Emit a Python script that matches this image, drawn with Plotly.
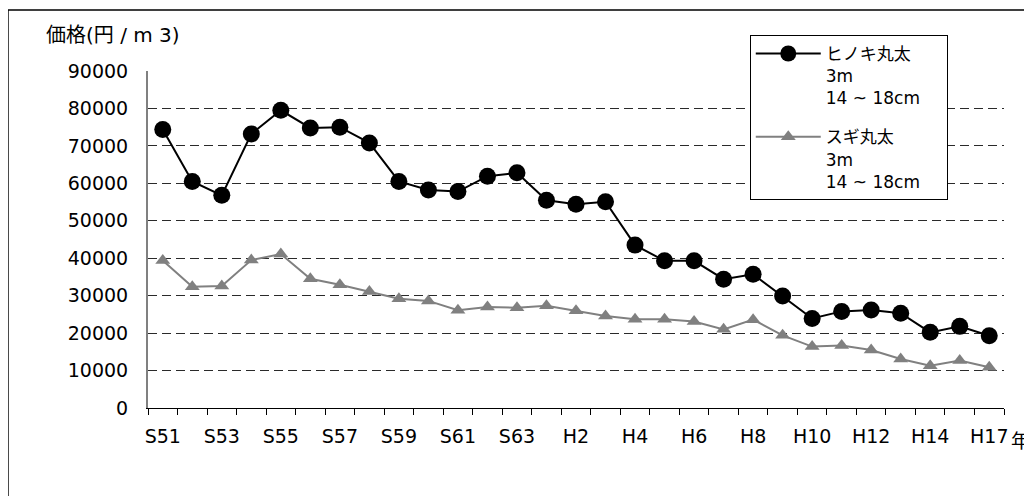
import plotly.graph_objects as go

categories = ["S51", "S52", "S53", "S54", "S55", "S56", "S57", "S58", "S59", "S60",
              "S61", "S62", "S63", "H1", "H2", "H3", "H4", "H5", "H6", "H7",
              "H8", "H9", "H10", "H11", "H12", "H13", "H14", "H15", "H17"]

hinoki = [74400, 60500, 56800, 73200, 79500, 74800, 75000, 70800, 60500, 58200,
          57800, 61900, 62800, 55500, 54400, 55100, 43500, 39300, 39300, 34400,
          35700, 29900, 23900, 25800, 26200, 25300, 20200, 21800, 19300]

sugi = [39400, 32400, 32600, 39500, 41100, 34500, 32900, 31100, 29200, 28600,
        26100, 27000, 26800, 27300, 26000, 24600, 23700, 23700, 23100, 21000,
        23600, 19400, 16400, 16700, 15500, 13100, 11300, 12700, 10900]

PAD = "\u00a0" * 4
name_hinoki = "ヒノキ丸太<br>3m<br>14 ~ 18cm" + PAD
name_sugi = "スギ丸太<br>3m<br>14 ~ 18cm" + PAD

y_title = "価格(円 / m 3)"
x_unit = "年"

FONT = "DejaVu Sans, Noto Sans CJK JP, sans-serif"

ticktext = [c if i % 2 == 0 else "" for i, c in enumerate(categories)]
idx = list(range(len(categories)))

fig = go.Figure()
fig.add_trace(go.Scatter(
    x=categories, y=hinoki, name=name_hinoki, mode="lines+markers",
    line=dict(color="#000000", width=2),
    marker=dict(symbol="circle", size=17, color="#000000"),
    legendgroup="a",
))
fig.add_trace(go.Scatter(
    x=categories, y=sugi, name=name_sugi, mode="lines+markers",
    line=dict(color="#808080", width=2),
    marker=dict(symbol="triangle-up", size=13, color="#808080"),
    legendgroup="b",
))

fig.update_layout(
    width=1024, height=488,
    margin=dict(l=140, r=28, t=63, b=88, autoexpand=False),
    paper_bgcolor="white", plot_bgcolor="white",
    font=dict(family=FONT, size=19, color="#000000"),
    showlegend=True,
    legend=dict(
        x=0.703, y=1.107, xanchor="left", yanchor="top",
        bgcolor="white", bordercolor="#000000", borderwidth=1,
        font=dict(family=FONT, size=17, color="#000000"),
        valign="top", traceorder="grouped", tracegroupgap=14,
        itemwidth=65,
    ),
    xaxis=dict(
        type="category", categoryorder="array", categoryarray=categories,
        range=[-0.5, len(categories) - 0.5],
        tickmode="array", tickvals=categories, ticktext=ticktext,
        tickson="boundaries", ticks="outside", ticklen=6, tickwidth=1, tickcolor="#000000",
        showline=True, linecolor="#000000", linewidth=1,
        showgrid=False, zeroline=False, tickangle=0,
        ticklabelstandoff=11,
        tickfont=dict(family=FONT, size=19),
    ),
    xaxis2=dict(
        overlaying="x", anchor="y", side="bottom",
        range=[-0.5, len(categories) - 0.5],
        tickmode="array", tickvals=idx, ticktext=[""] * len(idx),
        ticks="inside", ticklen=6, tickwidth=1, tickcolor="#000000",
        showline=False, showgrid=False, zeroline=False, showticklabels=False,
    ),
    yaxis=dict(
        range=[0, 90000], dtick=10000, tick0=0, tickformat="d",
        showgrid=True, gridcolor="#2a2a2a", gridwidth=1, griddash="9px,5px",
        showline=True, linecolor="#808080", linewidth=2,
        zeroline=False, ticks="",
        ticklabelstandoff=14,
        tickfont=dict(family=FONT, size=19),
    ),
    annotations=[
        dict(text=y_title, xref="paper", yref="paper", x=-0.121, y=1.107,
             xanchor="left", yanchor="middle", showarrow=False,
             font=dict(family=FONT, size=20)),
        dict(text=x_unit, xref="paper", yref="paper", x=1.019, y=-0.097,
             xanchor="center", yanchor="middle", showarrow=False,
             font=dict(family=FONT, size=19)),
    ],
    shapes=[
        dict(type="rect", xref="paper", yref="paper",
             x0=-0.1636, x1=1.2, y0=-0.5, y1=1.181,
             line=dict(color="#000000", width=1.5), fillcolor="rgba(0,0,0,0)",
             layer="below"),
    ],
)

fig.write_html("out.html")
